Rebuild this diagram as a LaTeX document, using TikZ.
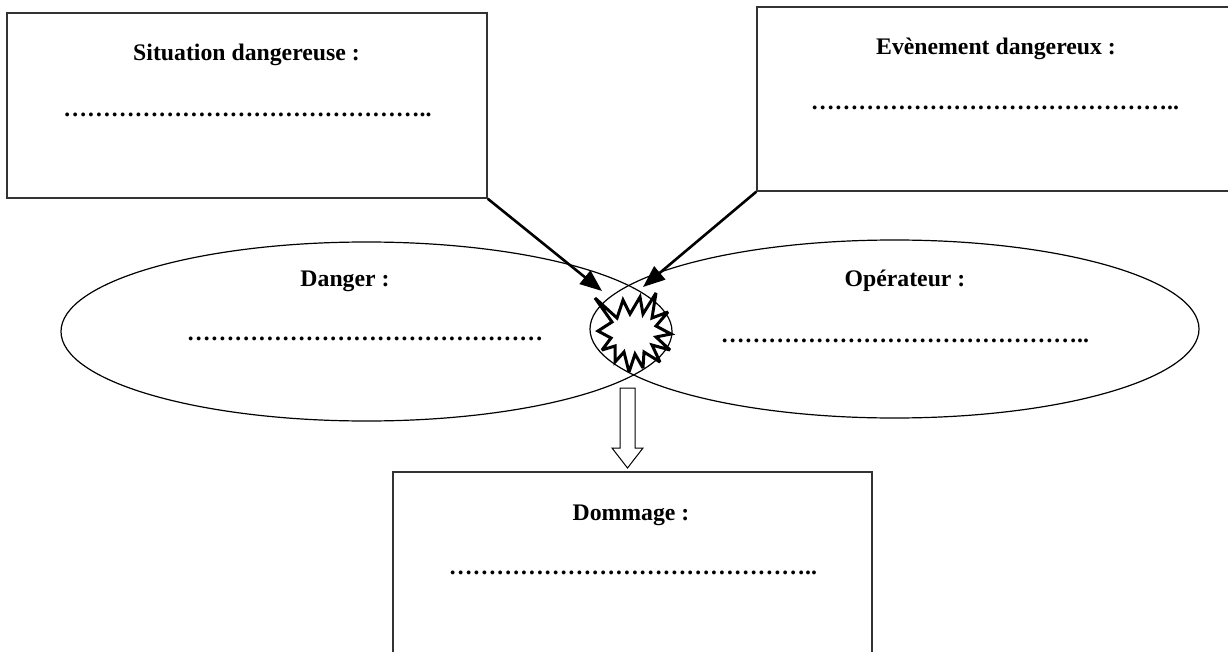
\documentclass[tikz,border=0pt]{standalone}
\usepackage{fontspec}
\setmainfont{Liberation Serif}
\usetikzlibrary{shapes.geometric,arrows.meta}
\newcommand\trio{…}
\newcommand\dotrun{\trio\trio\trio\trio\trio\trio\trio\trio\trio\trio\trio\trio\trio\trio\trio}
\begin{document}
\begin{tikzpicture}[x=1pt,y=-1pt,
  box/.style={draw=black!80, line width=1.4pt, inner sep=0pt, rectangle},
  oval/.style={draw, ellipse, line width=1.2pt, inner sep=0pt},
  lbl/.style={anchor=base, inner sep=0pt, font=\fontsize{23.75}{28}\selectfont\bfseries},
  hit/.style={line width=2.6pt, -{Triangle[length=22pt,width=17pt]}},
  blast/.style={draw, line width=3pt, fill=white, line join=miter, miter limit=3},
  hollow/.style={draw, line width=1pt, fill=white},
]
\useasboundingbox (0,0) rectangle (1228,652);

% boxes
\node[box, minimum width=480pt, minimum height=185pt] (b1) at (247,105.5) {};
\node[box, minimum width=482pt, minimum height=184pt] (b2) at (998,99) {};
\node[box, minimum width=479pt, minimum height=200pt] (b3) at (632.5,572) {};

% ellipses
\node[oval, minimum width=611pt, minimum height=179pt] (e1) at (366.5,331.5) {};
\node[oval, minimum width=609pt, minimum height=178pt] (e2) at (894.5,329) {};

% texts
\node[lbl] (t1) at (246.5,61) {Situation dangereuse :};
\node[lbl] (d1) at (247.5,117) {\dotrun..};
\node[lbl] (t2) at (996,55) {Evènement dangereux :};
\node[lbl] (d2) at (995,110) {\dotrun..};
\node[lbl] (t3) at (631,520) {Dommage :};
\node[lbl] (d3) at (633,574) {\dotrun..};
\node[lbl] (t4) at (345,286) {Danger :};
\node[lbl] (d4) at (365,340) {\dotrun};
\node[lbl] (t5) at (905,286) {Opérateur :};
\node[lbl] (d5) at (905,342) {\dotrun..};

% explosion
\coordinate (bang) at (634,332);
\path[blast] (595,298) -- (617,318) -- (623,300) -- (630,314) -- (640,297) -- (643,314)
  -- (656,293) -- (652,318) -- (668,312) -- (656,326) -- (671,334) -- (656,337)
  -- (670,350) -- (652,345) -- (660,362) -- (644,352) -- (643,368) -- (635,354)
  -- (629,372) -- (624,352) -- (615,362) -- (615,346) -- (602,350) -- (611,338)
  -- (598,331) -- (612,322) -- cycle;

% arrows into the explosion
\coordinate (s1) at (602,291);
\coordinate (s2) at (643,287);
\draw[hit] (b1.south east) -- (s1);
\draw[hit] (b2.south west) -- (s2);

% hollow arrow down to Dommage
\path[hollow] (620,388) -- (635,388) -- (635,448) -- (643,448) -- (627.5,468)
  -- (612,448) -- (620,448) -- cycle;
\end{tikzpicture}
\end{document}
